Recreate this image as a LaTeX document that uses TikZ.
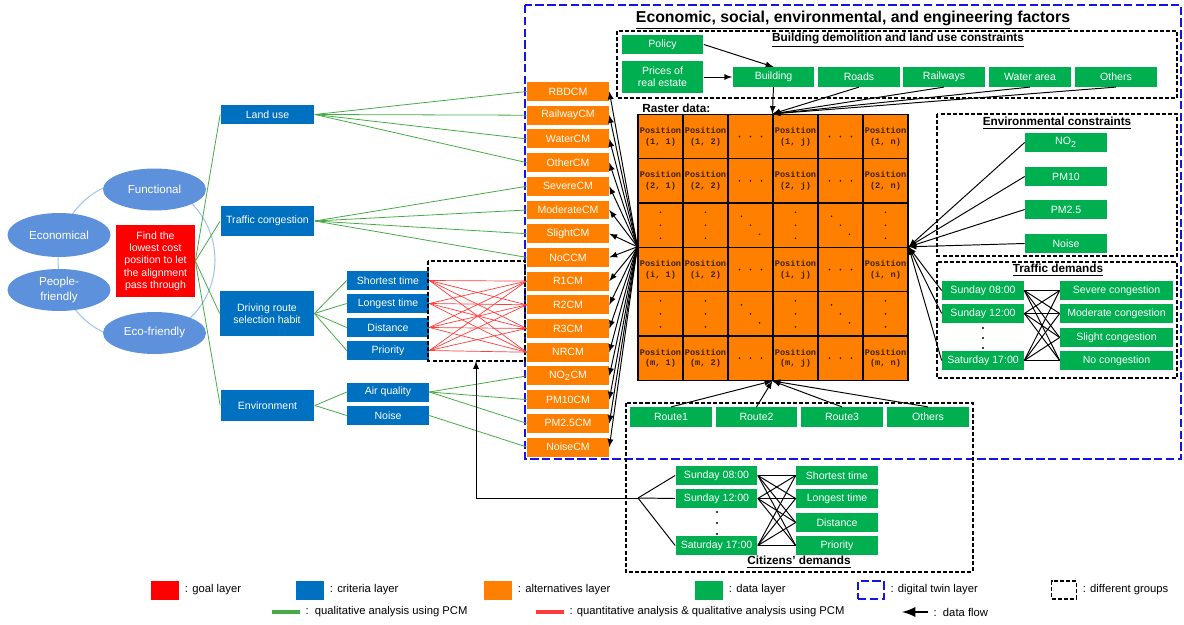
\documentclass[tikz,border=0pt]{standalone}
\usepackage{fontspec}
\setmainfont{Liberation Sans}
\newfontfamily\cellfont{Liberation Mono}
\usepackage{tikz}
\usetikzlibrary{shapes.geometric,positioning}

\definecolor{goalred}{RGB}{255,0,0}
\definecolor{critblue}{RGB}{0,112,192}
\definecolor{altorange}{RGB}{255,128,0}
\definecolor{datagreen}{RGB}{0,176,80}
\definecolor{aimblue}{RGB}{94,145,220}
\definecolor{ringblue}{RGB}{160,196,235}
\definecolor{pcmgreen}{RGB}{70,170,70}
\definecolor{pcmred}{RGB}{255,60,60}
\definecolor{twinblue}{RGB}{20,20,230}
\definecolor{celltext}{RGB}{60,35,0}

\tikzset{
  every node/.style={font=\fontsize{6}{7}\selectfont},
  aimnode/.style={ellipse, fill=aimblue, text=white, minimum width=2.06cm, minimum height=0.84cm, inner sep=0pt, align=center, font=\fontsize{6.6}{8}\selectfont},
  goalbox/.style={fill=goalred, text=white, minimum width=1.58cm, minimum height=1.44cm, inner sep=0pt, align=center},
  critbox/.style={fill=critblue, text=white, minimum width=1.88cm, inner sep=0pt, align=center},
  subbox/.style={fill=critblue, text=white, minimum width=1.64cm, minimum height=0.38cm, inner sep=0pt},
  altbox/.style={fill=altorange, text=white, minimum width=1.64cm, minimum height=0.38cm, inner sep=0pt},
  databox/.style={fill=datagreen, text=white, minimum width=1.64cm, minimum height=0.39cm, inner sep=0pt, align=center},
  rcell/.style={draw=black, fill=altorange, line width=0.7pt, minimum width=0.9cm, minimum height=0.886cm, inner sep=0pt},
  celltxt/.style={text=celltext, align=center, inner sep=0pt, font=\cellfont\bfseries\fontsize{4.9}{6}\selectfont},
  grouptitle/.style={font=\bfseries\fontsize{6.7}{8}\selectfont, inner sep=0pt},
  legtext/.style={font=\fontsize{6.4}{7}\selectfont, inner sep=1pt},
  grp/.style={draw=black, dash pattern=on 2.3pt off 1.2pt, line width=0.9pt},
  twin/.style={draw=twinblue, dash pattern=on 4.8pt off 1.9pt, line width=1.6pt},
  pcm/.style={draw=pcmgreen, line width=0.45pt},
  qpcm/.style={draw=pcmred, line width=0.4pt},
  link/.style={draw=black, line width=0.55pt},
  flow/.style={draw=black, line width=0.55pt, ->, >=latex},
}

\begin{document}
\begin{tikzpicture}[x=0.02cm, y=-0.02cm]
  \useasboundingbox (0,0) rectangle (1184,625);

  % digital twin layer
  \draw[twin] (525,5) rectangle (1181,459);
  \node[font=\bfseries\fontsize{9}{10}\selectfont] (title) at (853,20) {\underline{Economic, social, environmental, and engineering factors}};

  % goal and aims
  \draw[ringblue, line width=0.6pt] (136.5,260) ellipse [x radius=1.57cm, y radius=1.59cm];
  \node[aimnode] (func) at (154.5,189.5) {Functional};
  \node[aimnode, minimum height=0.88cm] (econ) at (59,235) {Economical};
  \node[aimnode] (people) at (59,290) {People-\\friendly};
  \node[aimnode] (eco) at (154.5,333) {Eco-friendly};
  \node[goalbox] (goal) at (155.5,261) {Find the\\lowest cost\\position to let\\the alignment\\pass through};

  % criteria layer
  \node[critbox, minimum height=0.38cm] (land) at (267.5,114.5) {Land use};
  \node[critbox, minimum height=0.6cm] (traffic) at (267.5,221) {Traffic congestion};
  \node[critbox, minimum height=0.9cm] (route) at (267,313.5) {Driving route\\selection habit};
  \node[critbox, minimum height=0.62cm] (env) at (267.5,405.5) {Environment};
  \foreach \name/\y [count=\i] in {Shortest time/280.5,Longest time/303.5,Distance/327.5,Priority/350.5}
    \node[subbox] (s\i) at (388,\y) {\name};
  \node[subbox] (air) at (388,392) {Air quality};
  \node[subbox] (noise) at (388,415.5) {Noise};

  % alternatives layer
  \foreach \name [count=\i] in {RBDCM,RailwayCM,WaterCM,OtherCM,SevereCM,ModerateCM,SlightCM,NoCCM,R1CM,R2CM,R3CM,NRCM,NO\textsubscript{2}CM,PM10CM,PM2.5CM,NoiseCM}
    \node[altbox] (a\i) at (568,{67.8+23.7*\i}) {\name};

  % PCM links
  \draw[grp] (428,261) rectangle (525,361);
  \coordinate (rbot) at (476,361);
  \foreach \c in {land,traffic,route,env}
    \draw[pcm] (goal.east) -- (\c.west);
  \foreach \i in {1,...,4}
    \draw[pcm] (land.east) -- (a\i.west);
  \foreach \i in {5,...,8}
    \draw[pcm] (traffic.east) -- (a\i.west);
  \foreach \i in {1,...,4}
    \draw[pcm] (route.east) -- (s\i.west);
  \draw[pcm] (env.east) -- (air.west);
  \draw[pcm] (env.east) -- (noise.west);
  \foreach \i in {13,14,15}
    \draw[pcm] (air.east) -- (a\i.west);
  \draw[pcm] (noise.east) -- (a16.west);
  \foreach \s in {1,...,4} \foreach \i in {9,...,12}
    \draw[qpcm] (s\s.east) -- (a\i.west);

  % raster data
  \node[grouptitle, anchor=west] (raster) at (642,108) {Raster data:};
  \foreach \r in {1,...,6}
    \foreach \c in {1,...,6}
      \node[rcell] (g\r\c) at ({638+45*(\c-0.5)},{114.5+44.3*(\r-0.5)}) {};
  \foreach \r/\rl in {1/1,2/2,4/i,6/m}
    \foreach \c/\cl in {1/1,2/2,4/j,6/n}
      \node[celltxt] (p\r\c) at (g\r\c) {Position\\(\rl, \cl)};
  \foreach \r in {1,2,4,6} \foreach \c in {3,5} \foreach \d in {-0.22,0,0.22}
    \fill[celltext] ([xshift=\d cm]g\r\c.center) circle[radius=0.55pt];
  \foreach \r in {3,5} \foreach \c in {1,2,4,6} \foreach \d in {-0.26,0,0.26}
    \fill[celltext] ([yshift=\d cm]g\r\c.center) circle[radius=0.55pt];
  \foreach \r in {3,5} \foreach \c in {3,5} \foreach \dx/\dy in {-0.18/0.18,0/0,0.18/-0.18}
    \fill[celltext] ([xshift=\dx cm, yshift=\dy cm]g\r\c.center) circle[radius=0.55pt];
  \foreach \i in {1,...,16}
    \draw[flow] (g41.north west) -- (a\i.east);

  % building demolition and land use constraints
  \draw[grp] (617,31) rectangle (1177,98);
  \node[grouptitle] (bdtitle) at (898,40) {\underline{Building demolition and land use constraints}};
  \node[databox] (policy) at (662.5,44.5) {Policy};
  \node[databox, minimum height=0.64cm] (price) at (662.5,77) {Prices of\\real estate};
  \foreach \name/\x [count=\i] in {Building/773.5,Roads/859,Railways/944,Water area/1030,Others/1116}
    \node[databox] (b\i) at (\x,77) {\name};
  \draw[flow] (policy.east) -- (b1.north);
  \draw[flow] (price.east) -- (b1.west);
  \foreach \i in {1,...,5}
    \draw[flow] (b\i.south) -- (g14.north west);

  % environmental constraints
  \draw[grp] (937,114) rectangle (1177,256);
  \node[grouptitle] (ectitle) at (1057,123) {\underline{Environmental constraints}};
  \foreach \name/\y [count=\i] in {NO\textsubscript{2}/142.5,PM10/176.5,PM2.5/209.5,Noise/243.5}
    \node[databox] (e\i) at (1066,\y) {\name};
  \foreach \i in {1,...,4}
    \draw[flow] (e\i.west) -- (g46.north east);

  % traffic demands
  \draw[grp] (937,262) rectangle (1177,378);
  \node[grouptitle] (tdtitle) at (1058,270) {\underline{Traffic demands}};
  \foreach \name/\y [count=\i] in {Sunday 08:00/290.5,Sunday 12:00/313.5,Saturday 17:00/360.5}
    \node[databox] (td\i) at (983,\y) {\name};
  \foreach \y in {328,338,348}
    \fill (983,\y) circle[radius=0.6pt];
  \foreach \name/\y [count=\i] in {Severe congestion/290.5,Moderate congestion/313.5,Slight congestion/337.5,No congestion/360.5}
    \node[databox, minimum width=2.26cm] (tc\i) at (1116.5,\y) {\name};
  \foreach \i in {1,2,3}
    \draw[flow] (td\i.west) -- (g46.north east);
  \foreach \i in {1,2,3} \foreach \k in {1,...,4}
    \draw[link] (td\i.east) -- (tc\k.west);

  % citizens' demands
  \draw[grp] (626,403) rectangle (973,572);
  \node[grouptitle] (cdtitle) at (799,562) {\underline{Citizens' demands}};
  \foreach \name/\x [count=\i] in {Route1/671,Route2/756.5,Route3/842,Others/928}
    \node[databox] (r\i) at (\x,417) {\name};
  \foreach \i in {1,...,4}
    \draw[flow] (r\i.north) -- (g64.south west);
  \foreach \name/\y [count=\i] in {Sunday 08:00/475.5,Sunday 12:00/498.5,Saturday 17:00/545.5}
    \node[databox] (cd\i) at (716.5,\y) {\name};
  \foreach \y in {512,523,534}
    \fill (717,\y) circle[radius=0.6pt];
  \foreach \name/\y [count=\i] in {Shortest time/475.5,Longest time/498.5,Distance/522.5,Priority/545.5}
    \node[databox] (cp\i) at (837,\y) {\name};
  \coordinate (cj) at (638,498);
  \foreach \i in {1,2,3}
    \draw[link] (cj) -- (cd\i.west);
  \foreach \i in {1,2,3} \foreach \k in {1,...,4}
    \draw[link] (cd\i.east) -- (cp\k.west);
  \draw[flow] (cj) -| (rbot);

  % legend
  \foreach \col/\x/\txt [count=\i] in {goalred/165/goal layer,critblue/310/criteria layer,altorange/498/alternatives layer,datagreen/709/data layer}
  {
    \node[fill=\col, minimum width=0.56cm, minimum height=0.38cm, inner sep=0pt] (lg\i) at (\x,590) {};
    \node[legtext, right=2pt of lg\i] (lt\i) {: \txt};
  }
  \node[twin, line width=1.1pt, minimum width=0.52cm, minimum height=0.36cm] (lg5) at (871,590) {};
  \node[legtext, right=2pt of lg5] (lt5) {: digital twin layer};
  \node[grp, minimum width=0.5cm, minimum height=0.36cm] (lg6) at (1064,590) {};
  \node[legtext, right=2pt of lg6] (lt6) {: different groups};
  \coordinate (lgg) at (272,612);
  \draw[pcmgreen, line width=1.8pt] (lgg) -- ++(28,0) coordinate (lgg2);
  \node[legtext, anchor=west] (lt7) at ([xshift=2pt]lgg2) {:\ \ qualitative analysis using PCM};
  \coordinate (lgr) at (536,612);
  \draw[pcmred, line width=1.8pt] (lgr) -- ++(28,0) coordinate (lgr2);
  \node[legtext, anchor=west] (lt8) at ([xshift=2pt]lgr2) {: quantitative analysis \& qualitative analysis using PCM};
  \coordinate (lgf) at (902,612);
  \draw[black, line width=1.6pt, <-, >=latex] (lgf) -- ++(26,0) coordinate (lgf2);
  \node[legtext, anchor=west] (lt9) at ([xshift=2pt]lgf2) {:\ \ data flow};
\end{tikzpicture}
\end{document}
